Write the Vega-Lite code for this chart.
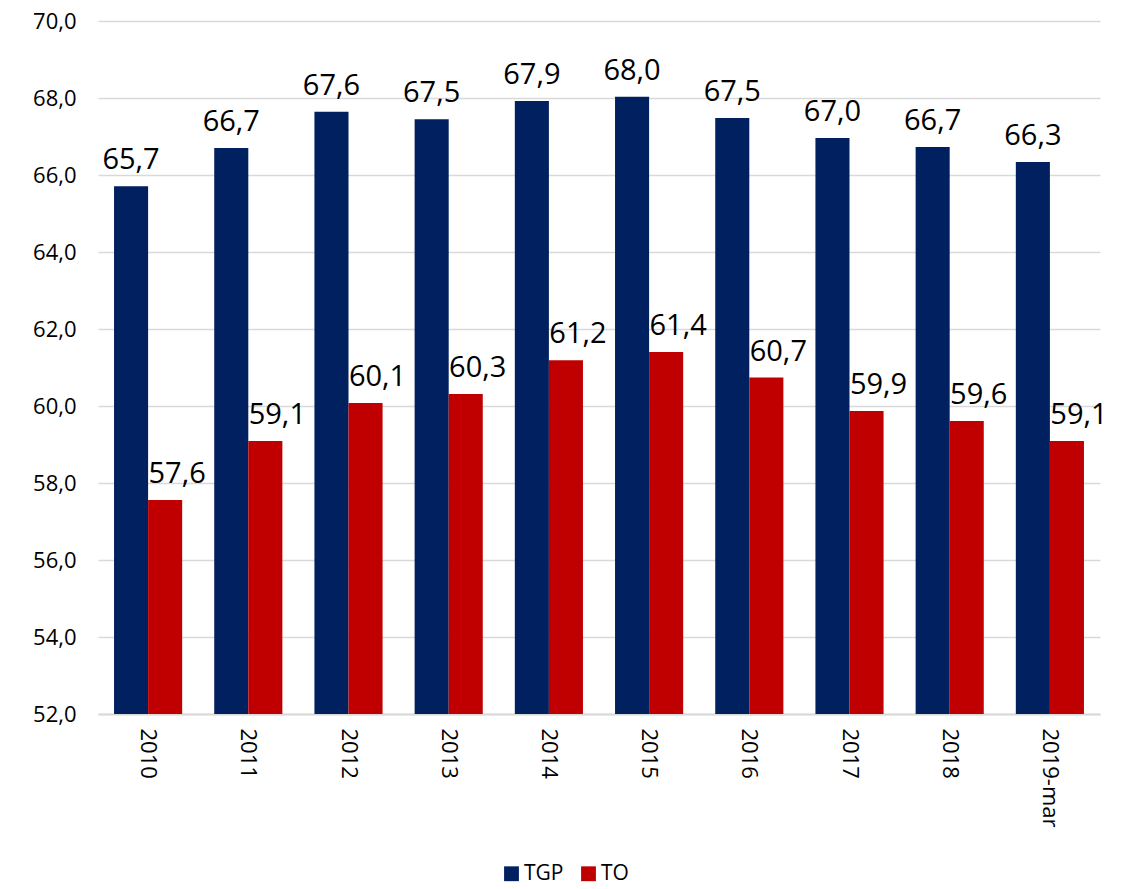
{
  "$schema": "https://vega.github.io/schema/vega-lite/v6.json",
  "autosize": "none",
  "width": 1002,
  "height": 693,
  "padding": {"left": 98, "top": 21, "right": 22, "bottom": 175},
  "background": "white",
  "data": {
    "values": [
      {"year": "2010", "series": "TGP", "value": 65.71, "label": "65,7"},
      {"year": "2011", "series": "TGP", "value": 66.70, "label": "66,7"},
      {"year": "2012", "series": "TGP", "value": 67.64, "label": "67,6"},
      {"year": "2013", "series": "TGP", "value": 67.45, "label": "67,5"},
      {"year": "2014", "series": "TGP", "value": 67.92, "label": "67,9"},
      {"year": "2015", "series": "TGP", "value": 68.03, "label": "68,0"},
      {"year": "2016", "series": "TGP", "value": 67.48, "label": "67,5"},
      {"year": "2017", "series": "TGP", "value": 66.96, "label": "67,0"},
      {"year": "2018", "series": "TGP", "value": 66.73, "label": "66,7"},
      {"year": "2019-mar", "series": "TGP", "value": 66.34, "label": "66,3"},
      {"year": "2010", "series": "TO", "value": 57.56, "label": "57,6"},
      {"year": "2011", "series": "TO", "value": 59.09, "label": "59,1"},
      {"year": "2012", "series": "TO", "value": 60.08, "label": "60,1"},
      {"year": "2013", "series": "TO", "value": 60.31, "label": "60,3"},
      {"year": "2014", "series": "TO", "value": 61.19, "label": "61,2"},
      {"year": "2015", "series": "TO", "value": 61.40, "label": "61,4"},
      {"year": "2016", "series": "TO", "value": 60.74, "label": "60,7"},
      {"year": "2017", "series": "TO", "value": 59.87, "label": "59,9"},
      {"year": "2018", "series": "TO", "value": 59.61, "label": "59,6"},
      {"year": "2019-mar", "series": "TO", "value": 59.09, "label": "59,1"}
    ]
  },
  "encoding": {
    "x": {
      "field": "year",
      "type": "nominal",
      "sort": null,
      "scale": {"paddingInner": 0.32, "paddingOuter": 0.16},
      "axis": {
        "title": null,
        "labelAngle": 90,
        "labelAlign": "left",
        "labelBaseline": "middle",
        "labelFont": "Open Sans",
        "labelFontSize": 22,
        "labelColor": "#000000",
        "labelPadding": 14,
        "ticks": false,
        "domainColor": "#d9d9d9",
        "domainWidth": 2,
        "grid": false
      }
    },
    "xOffset": {"field": "series", "type": "nominal", "scale": {"paddingInner": 0, "paddingOuter": 0}},
    "y": {
      "field": "value",
      "type": "quantitative",
      "scale": {"domain": [52, 70], "zero": false, "nice": false},
      "axis": {
        "title": null,
        "values": [52, 54, 56, 58, 60, 62, 64, 66, 68, 70],
        "labelExpr": "replace(format(datum.value, '.1f'), '.', ',')",
        "labelFont": "Open Sans",
        "labelFontSize": 22,
        "labelColor": "#000000",
        "labelPadding": 22,
        "ticks": false,
        "domain": false,
        "gridColor": "#d9d9d9",
        "gridWidth": 1.5
      }
    }
  },
  "layer": [
    {
      "mark": {"type": "bar"},
      "encoding": {
        "y2": {"datum": 52},
        "color": {
          "field": "series",
          "type": "nominal",
          "scale": {"domain": ["TGP", "TO"], "range": ["#002060", "#C00000"]},
          "legend": {
            "title": null,
            "orient": "none",
            "direction": "horizontal",
            "legendX": 403,
            "legendY": 842,
            "symbolType": "square",
            "symbolSize": 220,
            "symbolStrokeWidth": 0,
            "labelFont": "Open Sans",
            "labelFontSize": 21,
            "labelColor": "#000000",
            "labelOffset": 2,
            "columnPadding": 14
          }
        }
      }
    },
    {
      "transform": [{"filter": "datum.series == 'TGP'"}],
      "mark": {"type": "text", "font": "Open Sans", "fontSize": 29, "baseline": "alphabetic", "dy": -17, "color": "#000000"},
      "encoding": {"text": {"field": "label"}}
    },
    {
      "transform": [{"filter": "datum.series == 'TO'"}],
      "mark": {"type": "text", "font": "Open Sans", "fontSize": 29, "baseline": "alphabetic", "dy": -17, "dx": 12, "color": "#000000"},
      "encoding": {"text": {"field": "label"}}
    }
  ],
  "config": {"view": {"stroke": null}}
}
